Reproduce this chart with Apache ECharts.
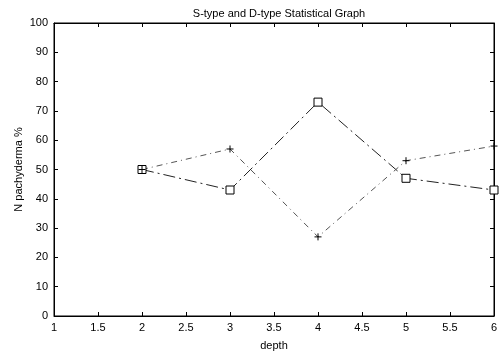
<!DOCTYPE html>
<html><head><meta charset="utf-8">
<script src="https://cdn.jsdelivr.net/npm/echarts@6/dist/echarts.min.js"></script>
<style>html,body{margin:0;padding:0;background:#fff}#c{width:503px;height:356px}</style>
</head><body><div id="c"></div>
<script>
const depths = [2, 3, 4, 5, 6];
const squareSeries = [50, 43, 73, 47, 43];
const plusSeries = [50, 57, 27, 53, 58];
const xTicks = [1, 1.5, 2, 2.5, 3, 3.5, 4, 4.5, 5, 5.5, 6];
const yTicks = [0, 10, 20, 30, 40, 50, 60, 70, 80, 90, 100];

const font = 'Liberation Sans, Arial, sans-serif';
const chart = echarts.init(document.getElementById('c'), null, {renderer: 'canvas'});
const line = {show: true, onZero: false, lineStyle: {color: '#000', width: 1}};
const tick = {show: true, inside: true, length: 4, lineStyle: {color: '#000'}};
const lbl = {color: '#000', fontSize: 11, fontFamily: font, margin: 6};
const nts = {color: '#000', fontSize: 11, fontFamily: font};
chart.setOption({
  animation: false,
  backgroundColor: '#fff',
  title: {text: 'S-type and D-type Statistical Graph', left: 274, top: 3, textAlign: 'center',
    textStyle: {fontSize: 11, fontWeight: 'normal', color: '#000', fontFamily: font}},
  grid: {left: 54, right: 9, top: 23, bottom: 33, show: true, borderColor: '#000', borderWidth: 1},
  xAxis: [
    {type: 'value', min: xTicks[0], max: xTicks[xTicks.length - 1], interval: 0.5, name: 'depth',
      nameLocation: 'middle', nameGap: 24, nameMoveOverlap: false, nameTextStyle: nts, axisLine: line, axisTick: tick,
      splitLine: {show: false}, axisLabel: Object.assign({}, lbl, {formatter: v => String(v)})},
    {type: 'value', position: 'top', min: xTicks[0], max: xTicks[xTicks.length - 1], interval: 0.5,
      axisLine: line, axisTick: tick, splitLine: {show: false}, axisLabel: {show: false}}
  ],
  yAxis: [
    {type: 'value', min: yTicks[0], max: yTicks[yTicks.length - 1], interval: 10, name: 'N pachyderma %',
      nameLocation: 'middle', nameGap: 30, nameMoveOverlap: false, nameTextStyle: nts, axisLine: line, axisTick: tick,
      splitLine: {show: false}, axisLabel: lbl},
    {type: 'value', position: 'right', min: yTicks[0], max: yTicks[yTicks.length - 1], interval: 10,
      axisLine: line, axisTick: tick, splitLine: {show: false}, axisLabel: {show: false}}
  ],
  series: [
    {type: 'line', data: depths.map((d, i) => [d, squareSeries[i]]),
      symbol: 'rect', symbolSize: 8, itemStyle: {color: '#fff', borderColor: '#000', borderWidth: 1},
      lineStyle: {color: '#222', width: 1, type: [12, 4, 2, 4]}},
    {type: 'line', data: depths.map((d, i) => [d, plusSeries[i]]),
      symbol: 'path://M-1,0L1,0M0,-1L0,1', symbolSize: 7, itemStyle: {color: 'none', borderColor: '#000', borderWidth: 1},
      lineStyle: {color: '#555', width: 1, type: [6, 4, 1, 4]}}
  ]
});
</script></body></html>
